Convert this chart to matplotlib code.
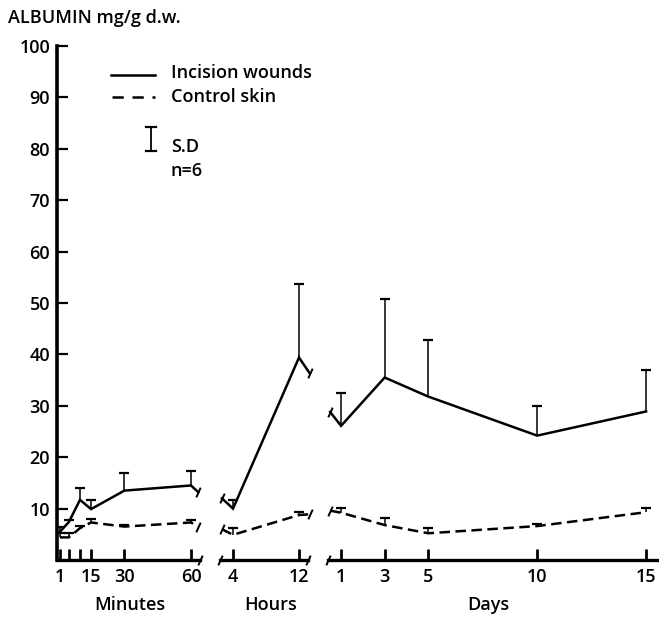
import matplotlib
matplotlib.use("Agg")
import matplotlib.pyplot as plt
from matplotlib.lines import Line2D

plt.rcParams['font.family'] = ['Open Sans', 'DejaVu Sans']
plt.rcParams['font.weight'] = 'semibold'
plt.rcParams['font.size'] = 13

# minutes
min_x = [1, 5, 10, 15, 30, 60]
min_labels = ["1", "", "", "15", "30", "60"]
min_inc = [5.5, 7.4, 11.7, 9.9, 13.5, 14.5]
min_inc_sd = [6.4, 7.8, 14.0, 11.7, 16.9, 17.3]
min_ctl = [4.4, 4.4, 6.2, 7.3, 6.5, 7.3]
min_ctl_sd = [5.2, 5.2, 6.6, 8.0, 6.9, 7.8]

# hours
hr_x = [4, 12]
hr_inc = [10.0, 39.4]
hr_inc_sd = [11.6, 53.6]
hr_ctl = [4.9, 8.75]
hr_ctl_sd = [6.2, 9.4]

# days
day_x = [1, 3, 5, 10, 15]
day_inc = [26.1, 35.5, 31.8, 24.2, 28.9]
day_inc_sd = [32.4, 50.8, 42.8, 30.0, 37.0]
day_ctl = [9.2, 6.8, 5.2, 6.6, 9.3]
day_ctl_sd = [10.2, 8.1, 6.3, 7.0, 10.2]

# where the lines are cut at the breaks (x, incision, control)
min_tail = (63.3, 13.2, 6.5)
hr_head = (2.65, 12.0, 6.0)
hr_tail = (13.3, 36.3, 8.9)
day_head = (0.5, 28.8, 9.6)

W, H = 659, 618
fig = plt.figure(figsize=(W / 100, H / 100), dpi=100)


def px(x0, x1):
    return [x0 / W, 58 / H, (x1 - x0) / W, 514 / H]


ax_m = fig.add_axes(px(57, 200))
ax_h = fig.add_axes(px(220, 308))
ax_d = fig.add_axes(px(328, 657))

slash = [(-0.45, -1), (0.45, 1)]
dash = (0, (4.2, 2.2))
lw = 1.8


def panel(ax, x, inc, inc_sd, ctl, ctl_sd, head=None, tail=None):
    xi, yi, yc = list(x), list(inc), list(ctl)
    if head:
        xi = [head[0]] + xi
        yi = [head[1]] + yi
        yc = [head[2]] + yc
    if tail:
        xi = xi + [tail[0]]
        yi = yi + [tail[1]]
        yc = yc + [tail[2]]
    ax.plot(xi, yi, color='k', lw=lw, clip_on=False, solid_joinstyle='miter')
    ax.plot(xi, yc, color='k', lw=lw, linestyle=dash, clip_on=False)
    for ends in (head, tail):
        if ends:
            ax.plot([ends[0]] * 2, ends[1:], ls='none', marker=slash, ms=7,
                    mew=1.4, color='k', clip_on=False)
    ax.vlines(x, inc, inc_sd, color='k', lw=1.1)
    ax.plot(x, inc_sd, ls='none', marker='_', ms=7.5, mew=1.6, color='k')
    ax.vlines(x, ctl, ctl_sd, color='k', lw=1.1)
    ax.plot(x, ctl_sd, ls='none', marker='_', ms=7.5, mew=1.6, color='k')
    ax.set_ylim(0, 100)
    for s in ('top', 'right', 'left'):
        ax.spines[s].set_visible(False)
    ax.spines['bottom'].set_linewidth(2.4)
    ax.tick_params(axis='x', direction='in', length=8, width=2, pad=6,
                   labelsize=13)
    ax.set_yticks([])
    ax.patch.set_visible(False)


panel(ax_m, min_x, min_inc, min_inc_sd, min_ctl, min_ctl_sd, tail=min_tail)
panel(ax_h, hr_x, hr_inc, hr_inc_sd, hr_ctl, hr_ctl_sd, head=hr_head, tail=hr_tail)
panel(ax_d, day_x, day_inc, day_inc_sd, day_ctl, day_ctl_sd, head=day_head)

ax_m.set_xlim(-0.35, 64.06)
ax_h.set_xlim(2.42, 13.09)
ax_d.set_xlim(0.40, 15.5)

ax_m.set_xticks(min_x, min_labels)
ax_h.set_xticks(hr_x, [str(v) for v in hr_x])
ax_d.set_xticks(day_x, [str(v) for v in day_x])

ax_m.spines['left'].set_visible(True)
ax_m.spines['left'].set_linewidth(2.6)
ax_m.set_yticks(range(10, 101, 10))
ax_m.tick_params(axis='y', direction='in', length=8, width=1.6, pad=5,
                 labelsize=13)

# break marks on the x axis
for ax, xs in ((ax_m, [1]), (ax_h, [0, 1]), (ax_d, [0])):
    for xf in xs:
        ax.plot([xf], [0], marker=slash, ms=7, mew=1.4, color='k',
                transform=ax.transAxes, clip_on=False)

# unit labels
for ax, name, xf in ((ax_m, "Minutes", 0.51), (ax_h, "Hours", 0.57),
                     (ax_d, "Days", 0.486)):
    ax.text(xf, -0.087, name, ha='center', va='center',
            transform=ax.transAxes, fontsize=13)

fig.text(8 / W, 1 - 18 / H, "ALBUMIN mg/g d.w.", ha='left', va='center',
         fontsize=13)

# legend drawn by hand
fig.add_artist(Line2D([111 / W, 155 / W], [1 - 75 / H] * 2, color='k', lw=lw))
fig.add_artist(Line2D([112 / W, 155 / W], [1 - 97 / H] * 2, color='k', lw=lw,
                      linestyle=(0, (4.5, 3.5))))
fig.text(171 / W, 1 - 73 / H, "Incision wounds", va='center', fontsize=13)
fig.text(171 / W, 1 - 97 / H, "Control skin", va='center', fontsize=13)
fig.add_artist(Line2D([151 / W] * 2, [1 - 127 / H, 1 - 151 / H], color='k', lw=1.3))
for yy in (127, 151):
    fig.add_artist(Line2D([146 / W, 156 / W], [1 - yy / H] * 2, color='k', lw=1.6))
fig.text(171 / W, 1 - 147 / H, "S.D", va='center', fontsize=13)
fig.text(171 / W, 1 - 171 / H, "n=6", va='center', fontsize=13)

fig.savefig("out.png", dpi=100)
